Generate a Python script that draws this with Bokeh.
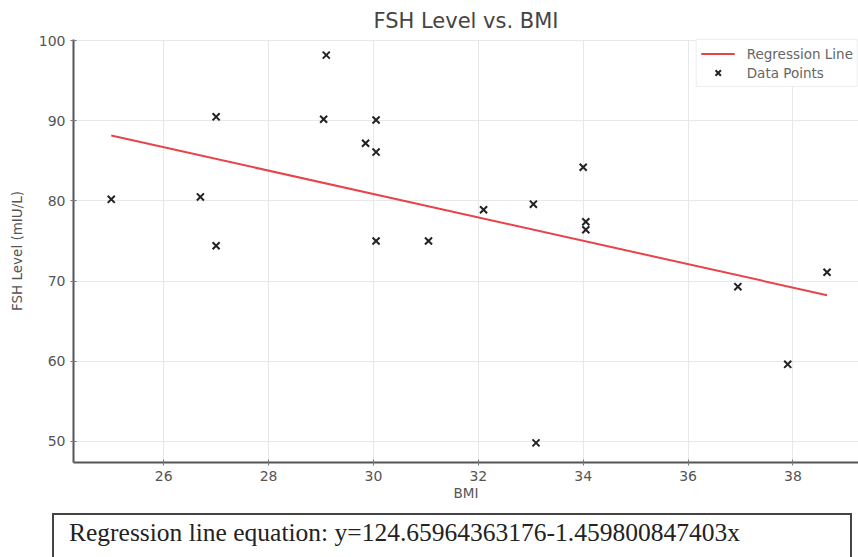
from bokeh.plotting import figure
from bokeh.models import Range1d, FixedTicker, Legend, LegendItem, Div
from bokeh.layouts import column
from bokeh.embed import file_html
from bokeh.resources import INLINE

# ---- data ----
bmi = [25.0, 26.7, 27.0, 27.0, 29.1, 29.05, 29.85, 30.05, 30.05, 30.05,
       31.05, 32.1, 33.05, 34.0, 34.05, 34.05, 36.95, 38.65, 37.9, 33.1]
fsh = [80.2, 80.5, 90.5, 74.4, 98.2, 90.2, 87.2, 86.1, 90.1, 75.0,
       75.0, 78.9, 79.6, 84.2, 77.4, 76.4, 69.3, 71.1, 59.6, 49.8]

intercept = 124.65964363176
slope = -1.459800847403
x_ticks = [26, 28, 30, 32, 34, 36, 38]
y_ticks = [50, 60, 70, 80, 90, 100]

line_x = [min(bmi), max(bmi)]
line_y = [intercept + slope * v for v in line_x]
equation = f"Regression line equation: y={intercept}{slope}x"

FONT = "DejaVu Sans"

p = figure(width=858, height=513,
           x_range=Range1d(24.28, 39.25), y_range=Range1d(47.35, 100.15),
           output_backend="svg", toolbar_location=None,
           min_border_left=73, min_border_right=0,
           min_border_top=38, min_border_bottom=51,
           title="FSH Level vs. BMI")

p.title.align = "center"
p.title.text_font = FONT
p.title.text_font_size = "21px"
p.title.text_font_style = "normal"
p.title.text_color = "#444444"
p.title.standoff = 13

p.outline_line_color = None
p.background_fill_color = "white"

for ax in (p.xaxis, p.yaxis):
    ax.axis_line_color = "#555555"
    ax.axis_line_width = 2
    ax.major_tick_line_color = "#777777"
    ax.major_tick_in = 3
    ax.major_tick_out = 3
    ax.minor_tick_line_color = None
    ax.major_label_text_font = FONT
    ax.major_label_text_font_size = "14px"
    ax.major_label_text_color = "#555555"
    ax.axis_label_text_font = FONT
    ax.axis_label_text_font_size = "13.5px"
    ax.axis_label_text_font_style = "normal"
    ax.axis_label_text_color = "#555555"
    ax.major_label_standoff = 5

p.xaxis.ticker = FixedTicker(ticks=x_ticks)
p.yaxis.ticker = FixedTicker(ticks=y_ticks)
p.xaxis.axis_label = "BMI"
p.yaxis.axis_label = "FSH Level (mIU/L)"
p.xaxis.axis_label_standoff = 1
p.yaxis.axis_label_standoff = 11

p.xgrid.ticker = FixedTicker(ticks=x_ticks)
p.ygrid.ticker = FixedTicker(ticks=y_ticks)
p.grid.grid_line_color = "#e8e8e8"
p.grid.grid_line_width = 1

r_line = p.line(line_x, line_y, line_color="#e8424a", line_width=2)
r_pts = p.scatter(bmi, fsh, marker="x", size=10, line_color="#222222", line_width=2)

legend = Legend(items=[LegendItem(label="Regression Line", renderers=[r_line]),
                       LegendItem(label="Data Points", renderers=[r_pts])],
                location="top_right")
legend.margin = 0
legend.padding = 4
legend.spacing = 0
legend.label_height = 19
legend.glyph_height = 19
legend.glyph_width = 34
legend.label_standoff = 12
legend.label_text_font = FONT
legend.label_text_font_size = "13.5px"
legend.label_text_color = "#666666"
legend.border_line_color = "#dddddd"
legend.border_line_width = 1
legend.background_fill_color = "white"
legend.background_fill_alpha = 1.0
p.add_layout(legend)

# ---- equation box ----
eq_div = Div(text=equation, width=800, height=44, margin=(0, 0, 0, 52),
             styles={"border": "2px solid #444444",
                     "border-bottom": "none",
                     "box-sizing": "border-box",
                     "font-family": "'Liberation Serif', serif",
                     "font-size": "25.5px",
                     "line-height": "28px",
                     "color": "#222222",
                     "padding-left": "15px",
                     "padding-top": "4px",
                     "white-space": "nowrap",
                     "overflow": "hidden"})

layout = column(p, eq_div, spacing=0)
open("out.html", "w").write(file_html(layout, INLINE))
